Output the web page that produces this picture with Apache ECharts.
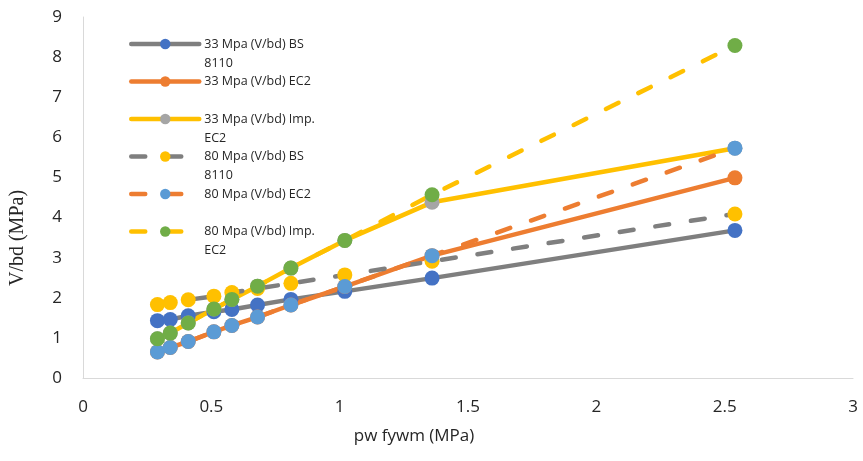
<!DOCTYPE html>
<html>
<head>
<meta charset="utf-8">
<script src="https://cdn.jsdelivr.net/npm/echarts@6/dist/echarts.min.js"></script>
<style>html,body{margin:0;padding:0;background:#fff}#c{width:863px;height:461px}</style>
</head>
<body>
<div id="c"></div>
<script>
// Data
const xValues = [0.29, 0.34, 0.41, 0.51, 0.58, 0.68, 0.81, 1.02, 1.36, 2.54];
const s33BS = [1.43, 1.46, 1.55, 1.65, 1.71, 1.82, 1.96, 2.16, 2.49, 3.68];
const s33EC2 = [0.65, 0.76, 0.91, 1.15, 1.31, 1.52, 1.82, 2.28, 3.05, 4.99];
const s33Imp = [0.98, 1.12, 1.37, 1.72, 1.96, 2.29, 2.74, 3.43, 4.38, 5.73];
const s80BS = [1.83, 1.88, 1.95, 2.04, 2.13, 2.23, 2.36, 2.57, 2.91, 4.09];
const s80EC2 = [0.65, 0.76, 0.91, 1.15, 1.31, 1.52, 1.82, 2.28, 3.05, 5.73];
const s80Imp = [0.98, 1.12, 1.37, 1.72, 1.96, 2.29, 2.74, 3.43, 4.57, 8.29];
const seriesNames = [
  '33 Mpa (V/bd) BS 8110', '33 Mpa (V/bd) EC2', '33 Mpa (V/bd) Imp. EC2',
  '80 Mpa (V/bd) BS 8110', '80 Mpa (V/bd) EC2', '80 Mpa (V/bd) Imp. EC2'
];
const legendLabels = [
  '33 Mpa (V/bd) BS\n8110', '33 Mpa (V/bd) EC2\n ', '33 Mpa (V/bd) Imp.\nEC2',
  '80 Mpa (V/bd) BS\n8110', '80 Mpa (V/bd) EC2\n ', '80 Mpa (V/bd) Imp.\nEC2'
];
const xTicks = ['0', '0.5', '1', '1.5', '2', '2.5', '3'];
const yTicks = ['0', '1', '2', '3', '4', '5', '6', '7', '8', '9'];
const xTitle = 'pw fywm (MPa)';
const yTitle = 'V/bd (MPa)';

const seriesValues = [s33BS, s33EC2, s33Imp, s80BS, s80EC2, s80Imp];
const lineColors = ['#7F7F7F', '#ED7D31', '#FFC000', '#7F7F7F', '#ED7D31', '#FFC000'];
const markerColors = ['#4472C4', '#ED7D31', '#A5A5A5', '#FFC000', '#5B9BD5', '#70AD47'];
const dashed = [false, false, false, true, true, true];

const chart = echarts.init(document.getElementById('c'), null, {renderer: 'canvas'});
const labelFont = '"Open Sans", sans-serif';
const textColor = '#262626';

const series = seriesValues.map((vals, i) => ({
  name: seriesNames[i],
  type: 'line',
  data: vals.map((v, k) => [xValues[k], v]),
  symbol: 'circle',
  symbolSize: 15,
  showSymbol: true,
  itemStyle: {color: markerColors[i], borderWidth: 0},
  lineStyle: {
    color: lineColors[i], width: 4.5, cap: 'round',
    type: dashed[i] ? [14, 22] : 'solid'
  },
  emphasis: {disabled: true},
  animation: false
}));

chart.setOption({
  animation: false,
  grid: {left: 83, right: 10, top: 17, bottom: 83, containLabel: false},
  legend: {
    orient: 'vertical',
    left: 124,
    top: 10.5,
    padding: 5,
    itemWidth: 68,
    itemHeight: 13,
    itemGap: -19.5,
    selectedMode: false,
    data: seriesNames,
    lineStyle: {width: 4.5, cap: 'round'},
    formatter: name => ' \n' + legendLabels[seriesNames.indexOf(name)],
    textStyle: {
      fontFamily: labelFont, fontSize: 12.5, color: textColor, lineHeight: 19
    }
  },
  xAxis: {
    type: 'value', min: 0, max: 3, interval: 0.5,
    axisLine: {show: true, lineStyle: {color: '#D9D9D9', width: 1}},
    axisTick: {show: false},
    splitLine: {show: false},
    axisLabel: {
      margin: 21, fontFamily: labelFont, fontSize: 17, color: textColor,
      formatter: v => xTicks[Math.round(v / 0.5)]
    }
  },
  yAxis: {
    type: 'value', min: 0, max: 9, interval: 1,
    axisLine: {show: true, lineStyle: {color: '#D9D9D9', width: 1}},
    axisTick: {show: false},
    splitLine: {show: false},
    axisLabel: {
      margin: 21, fontFamily: labelFont, fontSize: 17, color: textColor,
      formatter: v => yTicks[Math.round(v)]
    }
  },
  graphic: [
    {
      type: 'text', x: 414, y: 436,
      style: {text: xTitle, font: '17px "Open Sans", sans-serif', fill: textColor,
               align: 'center', verticalAlign: 'middle'}
    },
    {
      type: 'text', x: 18, y: 238, rotation: Math.PI / 2,
      style: {text: yTitle, font: '20px "Liberation Serif", "Times New Roman", serif', fill: textColor,
               align: 'center', verticalAlign: 'middle'}
    }
  ],
  series: series
});
</script>
</body>
</html>
